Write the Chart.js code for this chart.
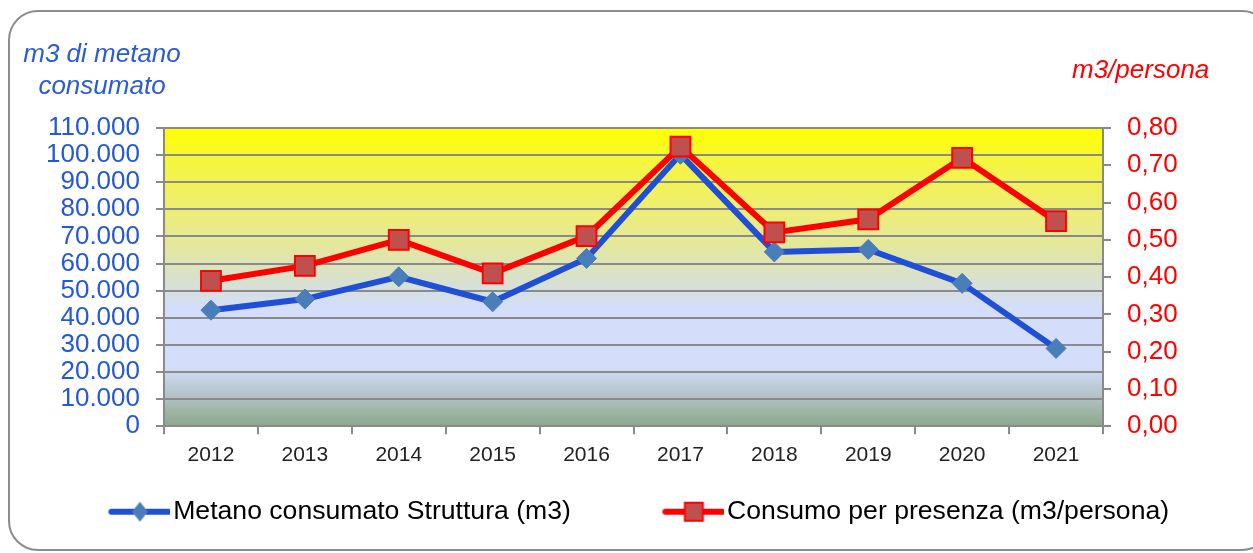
<!DOCTYPE html>
<html>
<head>
<meta charset="utf-8">
<script src="https://cdn.jsdelivr.net/npm/chart.js@4/dist/chart.umd.min.js"></script>
<style>
  html, body { margin: 0; padding: 0; background: #fff; }
  #wrap { position: relative; width: 1253px; height: 553px; overflow: hidden; }
  #frame {
    position: absolute; left: 8px; top: 10px; width: 1260px; height: 537px;
    border: 2px solid #8c8c8c; border-radius: 30px;
  }
  #grafico { position: absolute; left: 0; top: 0; }
</style>
</head>
<body>
<div id="wrap">
  <div id="frame"></div>
  <canvas id="grafico" width="1253" height="553"></canvas>
</div>
<script>
// Dati
const anni = ['2012', '2013', '2014', '2015', '2016', '2017', '2018', '2019', '2020', '2021'];
const metanoStruttura = [42800, 46900, 55100, 45900, 61900, 100300, 64300, 65200, 52700, 28700];
const consumoPresenza = [0.39, 0.43, 0.50, 0.41, 0.51, 0.75, 0.52, 0.555, 0.72, 0.55];
const tickSinistra = [0, 110000, 10000];   // min, max, passo
const tickDestra = [0, 0.8, 0.1];

const BLU = '#1f4fd6';
const ROSSO = '#ff0000';
const FONT = "'Liberation Sans', Arial, sans-serif";
const FONT_LEGENDA = 26.6;
const LARGHEZZA_SIMBOLO = 123;

// formato italiano con il punto per le migliaia
const formatoMigliaia = (v) => String(Math.round(v)).replace(/\B(?=(\d{3})+(?!\d))/g, '.');
const formatoDecimali = (v) => v.toFixed(2).replace('.', ',');

// icona della legenda: linea con il marcatore al centro
function iconaLegenda(colore, marcatore) {
    const c = document.createElement('canvas');
    c.width = Math.round(LARGHEZZA_SIMBOLO + FONT_LEGENDA - 6);
    c.height = 26;
    const ctx = c.getContext('2d');
    const x1 = c.width - 59, x2 = c.width - 2, cy = 13, cx = (x1 + x2) / 2;
    ctx.strokeStyle = colore;
    ctx.lineWidth = 6;
    ctx.lineCap = 'round';
    ctx.beginPath();
    ctx.moveTo(x1, cy);
    ctx.lineTo(x2, cy);
    ctx.stroke();
    if (marcatore === 'diamond') {
        ctx.fillStyle = '#4a7ebb';
        ctx.beginPath();
        ctx.moveTo(cx, cy - 10);
        ctx.lineTo(cx + 8, cy);
        ctx.lineTo(cx, cy + 10);
        ctx.lineTo(cx - 8, cy);
        ctx.closePath();
        ctx.fill();
    } else {
        ctx.fillStyle = '#c0504d';
        ctx.strokeStyle = ROSSO;
        ctx.lineWidth = 2;
        ctx.fillRect(cx - 9, cy - 9, 18, 18);
        ctx.strokeRect(cx - 9, cy - 9, 18, 18);
    }
    return c;
}

// sfondo sfumato dell'area del grafico
const sfondoArea = {
    id: 'sfondoArea',
    beforeDraw(chart) {
        const {ctx, chartArea: a} = chart;
        const g = ctx.createLinearGradient(0, a.top, 0, a.bottom);
        g.addColorStop(0, '#ffff00');
        g.addColorStop(0.13, '#f4f445');
        g.addColorStop(0.27, '#eeee72');
        g.addColorStop(0.4, '#e3e79e');
        g.addColorStop(0.52, '#d8e0d2');
        g.addColorStop(0.6, '#d4defa');
        g.addColorStop(0.8, '#d4defa');
        g.addColorStop(0.9, '#b2c2c6');
        g.addColorStop(1, '#8da88a');
        ctx.save();
        ctx.fillStyle = g;
        ctx.fillRect(a.left, a.top, a.right - a.left, a.bottom - a.top);
        ctx.restore();
    }
};

// titoli degli assi in alto
const titoliAssi = {
    id: 'titoliAssi',
    afterDraw(chart) {
        const ctx = chart.ctx;
        ctx.save();
        ctx.font = 'italic 26px ' + FONT;
        ctx.textBaseline = 'alphabetic';
        ctx.textAlign = 'center';
        ctx.fillStyle = '#2a5bd7';
        ctx.fillText('m3 di metano', 102, 62);
        ctx.fillText('consumato', 102, 94);
        ctx.textAlign = 'left';
        ctx.fillStyle = ROSSO;
        ctx.fillText('m3/persona', 1072, 78);
        ctx.restore();
    }
};

new Chart(document.getElementById('grafico'), {
    type: 'line',
    data: {
        labels: anni,
        datasets: [
            {
                label: 'Metano consumato Struttura (m3)',
                data: metanoStruttura,
                yAxisID: 'ySx',
                borderColor: BLU,
                borderWidth: 6,
                pointStyle: 'rectRot',
                pointRadius: 10,
                pointBackgroundColor: '#4a7ebb',
                pointBorderColor: '#4a7ebb',
                pointBorderWidth: 1,
                tension: 0,
                order: 2,
                _marcatore: 'diamond'
            },
            {
                label: 'Consumo per presenza (m3/persona)',
                data: consumoPresenza,
                yAxisID: 'yDx',
                borderColor: ROSSO,
                borderWidth: 6,
                pointStyle: 'rect',
                pointRadius: 14,
                pointBackgroundColor: '#c0504d',
                pointBorderColor: ROSSO,
                pointBorderWidth: 2,
                tension: 0,
                order: 1,
                _marcatore: 'square'
            }
        ]
    },
    options: {
        responsive: false,
        devicePixelRatio: 1,
        animation: false,
        layout: {
            padding: {top: 128, left: 0, right: 47, bottom: 18}
        },
        plugins: {
            tooltip: {enabled: false},
            legend: {
                position: 'bottom',
                labels: {
                    usePointStyle: true,
                    pointStyleWidth: LARGHEZZA_SIMBOLO,
                    padding: 20,
                    color: '#000',
                    font: {family: FONT, size: FONT_LEGENDA},
                    sort: (a, b) => a.datasetIndex - b.datasetIndex,
                    generateLabels: (chart) => chart.data.datasets.map((ds, i) => ({
                        text: ds.label,
                        datasetIndex: i,
                        pointStyle: iconaLegenda(ds.borderColor, ds._marcatore),
                        fillStyle: 'transparent',
                        strokeStyle: 'transparent',
                        lineWidth: 0,
                        fontColor: '#000',
                        hidden: false
                    }))
                }
            }
        },
        scales: {
            x: {
                offset: true,
                afterFit: (s) => { s.height += 3; },
                grid: {
                    offset: true,
                    drawOnChartArea: false,
                    drawTicks: true,
                    tickLength: 8,
                    color: '#8a8a8a',
                    lineWidth: 2
                },
                border: {color: '#8a8a8a', width: 2},
                ticks: {
                    color: '#222',
                    font: {family: FONT, size: 21},
                    padding: 8,
                    maxRotation: 0
                }
            },
            ySx: {
                position: 'left',
                min: tickSinistra[0],
                max: tickSinistra[1],
                afterFit: (s) => { s.width = 164; },
                grid: {
                    color: '#8a8a8a',
                    lineWidth: 2,
                    tickLength: 8
                },
                border: {color: '#8a8a8a', width: 2},
                ticks: {
                    stepSize: tickSinistra[2],
                    autoSkip: false,
                    padding: 16,
                    color: '#2458d8',
                    font: {family: FONT, size: 26},
                    callback: (v) => formatoMigliaia(v)
                }
            },
            yDx: {
                position: 'right',
                min: tickDestra[0],
                max: tickDestra[1],
                afterFit: (s) => { s.width = 103; },
                grid: {
                    drawOnChartArea: false,
                    color: '#8a8a8a',
                    lineWidth: 2,
                    tickLength: 8
                },
                border: {color: '#8a8a8a', width: 2},
                ticks: {
                    stepSize: tickDestra[2],
                    autoSkip: false,
                    padding: 16,
                    color: ROSSO,
                    font: {family: FONT, size: 26},
                    callback: (v) => formatoDecimali(v)
                }
            }
        }
    },
    plugins: [sfondoArea, titoliAssi]
});
</script>
</body>
</html>
